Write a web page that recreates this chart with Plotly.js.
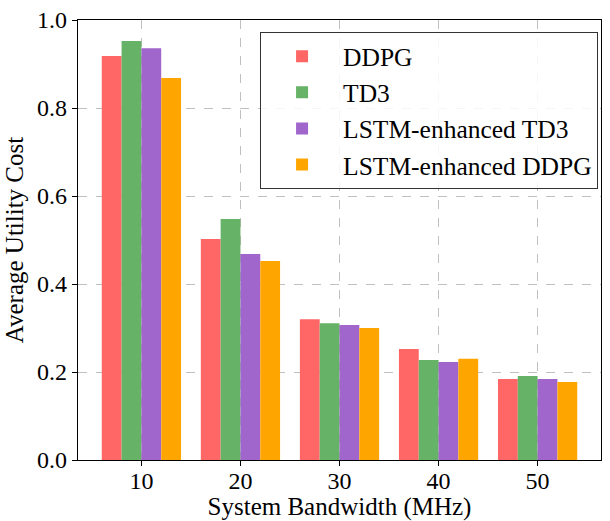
<!DOCTYPE html>
<html><head><meta charset="utf-8">
<script src="https://cdn.plot.ly/plotly-3.0.1.min.js"></script>
<style>html,body{margin:0;padding:0;background:#fff}</style>
</head><body>
<div id="chart" style="width:610px;height:521px"></div>
<script>
const bandwidth = [10, 20, 30, 40, 50];
const ddpg = [0.918, 0.502, 0.320, 0.252, 0.184];
const td3 = [0.952, 0.548, 0.311, 0.227, 0.191];
const lstmTd3 = [0.936, 0.468, 0.307, 0.223, 0.184];
const lstmDdpg = [0.868, 0.452, 0.300, 0.230, 0.177];
const names = ['DDPG', 'TD3', 'LSTM-enhanced TD3', 'LSTM-enhanced DDPG'];
const colors = ['#ff6666', '#66b266', '#a066cc', '#ffa500'];
const series = [ddpg, td3, lstmTd3, lstmDdpg];
const barW = 2;
const traces = series.map((s, i) => ({
  type: 'bar', x: bandwidth, y: s, name: names[i],
  width: barW, offset: -2 * barW + i * barW,
  marker: {color: colors[i], line: {width: 0}},
  legendgroup: 'g' + i
}));
const font = {family: '"Liberation Serif", "Times New Roman", serif', color: '#000'};
const layout = {
  width: 610, height: 521,
  margin: {l: 78, r: 9, t: 20, b: 61},
  barmode: 'overlay',
  paper_bgcolor: '#fff', plot_bgcolor: '#fff',
  font: Object.assign({size: 24}, font),
  showlegend: true,
  legend: {
    x: 0.994, y: 0.973, xanchor: 'right', yanchor: 'top',
    bordercolor: '#333', borderwidth: 1.2, bgcolor: 'rgba(255,255,255,0.85)',
    font: Object.assign({size: 25.5}, font),
    traceorder: 'grouped', tracegroupgap: 0, itemwidth: 72
  },
  xaxis: {
    range: [3.6, 56.4], tickvals: bandwidth, ticktext: bandwidth.map(String),
    ticks: 'outside', ticklen: 5, tickcolor: '#000',
    ticklabelstandoff: -6,
    showline: true, mirror: true, linecolor: '#000', linewidth: 1.2,
    showgrid: true, gridcolor: '#c0c0c0', griddash: 'dash', gridwidth: 1,
    zeroline: false,
    tickfont: Object.assign({size: 24}, font),
    title: {text: 'System Bandwidth (MHz)', font: Object.assign({size: 25}, font), standoff: 6}
  },
  yaxis: {
    range: [0, 1.0], tickvals: [0, 0.2, 0.4, 0.6, 0.8, 1.0], ticktext: ['0.0','0.2','0.4','0.6','0.8','1.0'],
    ticks: 'outside', ticklen: 5, tickcolor: '#000',
    showline: true, mirror: true, linecolor: '#000', linewidth: 1.2,
    showgrid: true, gridcolor: '#c0c0c0', griddash: 'dash', gridwidth: 1,
    zeroline: false,
    tickfont: Object.assign({size: 24}, font),
    title: {text: 'Average Utility Cost', font: Object.assign({size: 25}, font), standoff: 6}
  }
};
Plotly.newPlot('chart', traces, layout, {displayModeBar: false, staticPlot: true});
</script>
</body></html>
